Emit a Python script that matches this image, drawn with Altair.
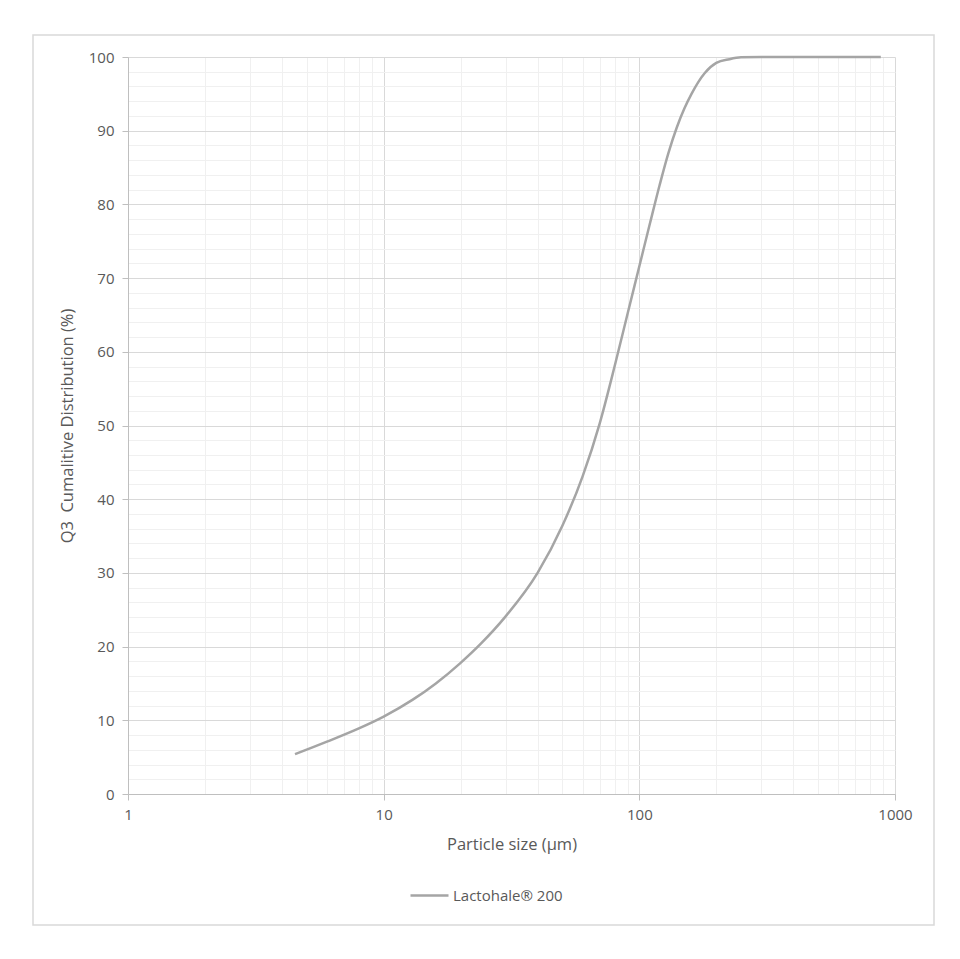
import altair as alt
import pandas as pd

# Particle size (µm) and cumulative distribution (%)
size_um = [4.5, 6, 8, 10, 13, 16, 20, 24, 30, 40, 50, 60, 70, 80, 90, 100,
           110, 120, 130, 140, 150, 160, 180, 200, 225, 250, 300, 400, 600, 880]
q3_pct = [5.4, 7.1, 8.9, 10.5, 12.8, 15.0, 17.8, 20.4, 24.1, 30.0, 36.4, 43.1,
          50.3, 58.0, 65.2, 71.6, 77.4, 82.6, 87.0, 90.4, 93.0, 95.0, 97.8,
          99.2, 99.7, 99.95, 100.0, 100.0, 100.0, 100.0]
series_name = "Lactohale\u00ae 200"

x_grid_values = [1, 2, 3, 4, 5, 6, 7, 8, 9, 10, 20, 30, 40, 50, 60, 70, 80, 90,
                 100, 200, 300, 400, 500, 600, 700, 800, 900, 1000]
y_grid_values = list(range(0, 101, 2))

df = pd.DataFrame({"size": size_um, "q3": q3_pct, "series": series_name})

FONT = "Open Sans"
TXT = "#595959"
MAJOR_X = "indexof([1,10,100,1000], datum.value) >= 0"

x_axis = alt.Axis(
    title="Particle size (\u00b5m)",
    values=x_grid_values,
    format="d",
    labelExpr=MAJOR_X + " ? datum.label : ''",
    grid=True,
    gridColor={"condition": {"test": MAJOR_X, "value": "#d9d9d9"}, "value": "#f0f0f0"},
    tickOpacity={"condition": {"test": MAJOR_X, "value": 1}, "value": 0},
    tickColor="#bfbfbf",
    tickSize=6,
    domainColor="#bfbfbf",
    labelPadding=7,
    labelFlush=False,
    labelOverlap=False,
    titlePadding=14,
)

y_axis = alt.Axis(
    title="Q3\u00a0 Cumalitive Distribution (%)",
    values=y_grid_values,
    labelExpr="datum.value % 10 == 0 ? datum.label : ''",
    grid=True,
    gridColor={"condition": {"test": "datum.value % 10 == 0", "value": "#d9d9d9"},
               "value": "#f0f0f0"},
    tickOpacity={"condition": {"test": "datum.value % 10 == 0", "value": 1},
                 "value": 0},
    tickColor="#bfbfbf",
    tickSize=6,
    domainColor="#bfbfbf",
    labelPadding=8,
    labelOverlap=False,
    titlePadding=13,
)

line = alt.Chart(df).mark_line(strokeWidth=2.5, interpolate="monotone").encode(
    x=alt.X("size:Q", scale=alt.Scale(type="log", domain=[1, 1000], nice=False), axis=x_axis),
    y=alt.Y("q3:Q", scale=alt.Scale(domain=[0, 100], nice=False), axis=y_axis),
    color=alt.Color(
        "series:N",
        scale=alt.Scale(domain=[series_name], range=["#a5a5a5"]),
        legend=alt.Legend(
            title=None, orient="none", legendX=281, legendY=818,
            symbolType="stroke", symbolSize=1444, symbolStrokeWidth=2.5,
            labelFontSize=15, labelColor=TXT, labelFont=FONT, labelOffset=3,
        ),
    ),
)

border = alt.Chart(alt.Data(values=[{}])).mark_rect(
    filled=False, stroke="#d9d9d9", strokeWidth=1.5, clip=False
).encode(
    x=alt.value(-95), x2=alt.value(806), y=alt.value(-22), y2=alt.value(868)
)

chart = alt.layer(line, border).properties(
    width=767, height=737,
    autosize=alt.AutoSizeParams(type="none"),
    padding={"left": 120, "top": 49, "right": 50, "bottom": 140},
).configure_view(stroke=None).configure_axis(
    labelFont=FONT, titleFont=FONT, labelFontSize=15, titleFontSize=16.5,
    labelColor=TXT, titleColor=TXT, titleFontWeight="normal",
)

chart.save("out.html", embed_options={"renderer": "svg", "actions": False})
